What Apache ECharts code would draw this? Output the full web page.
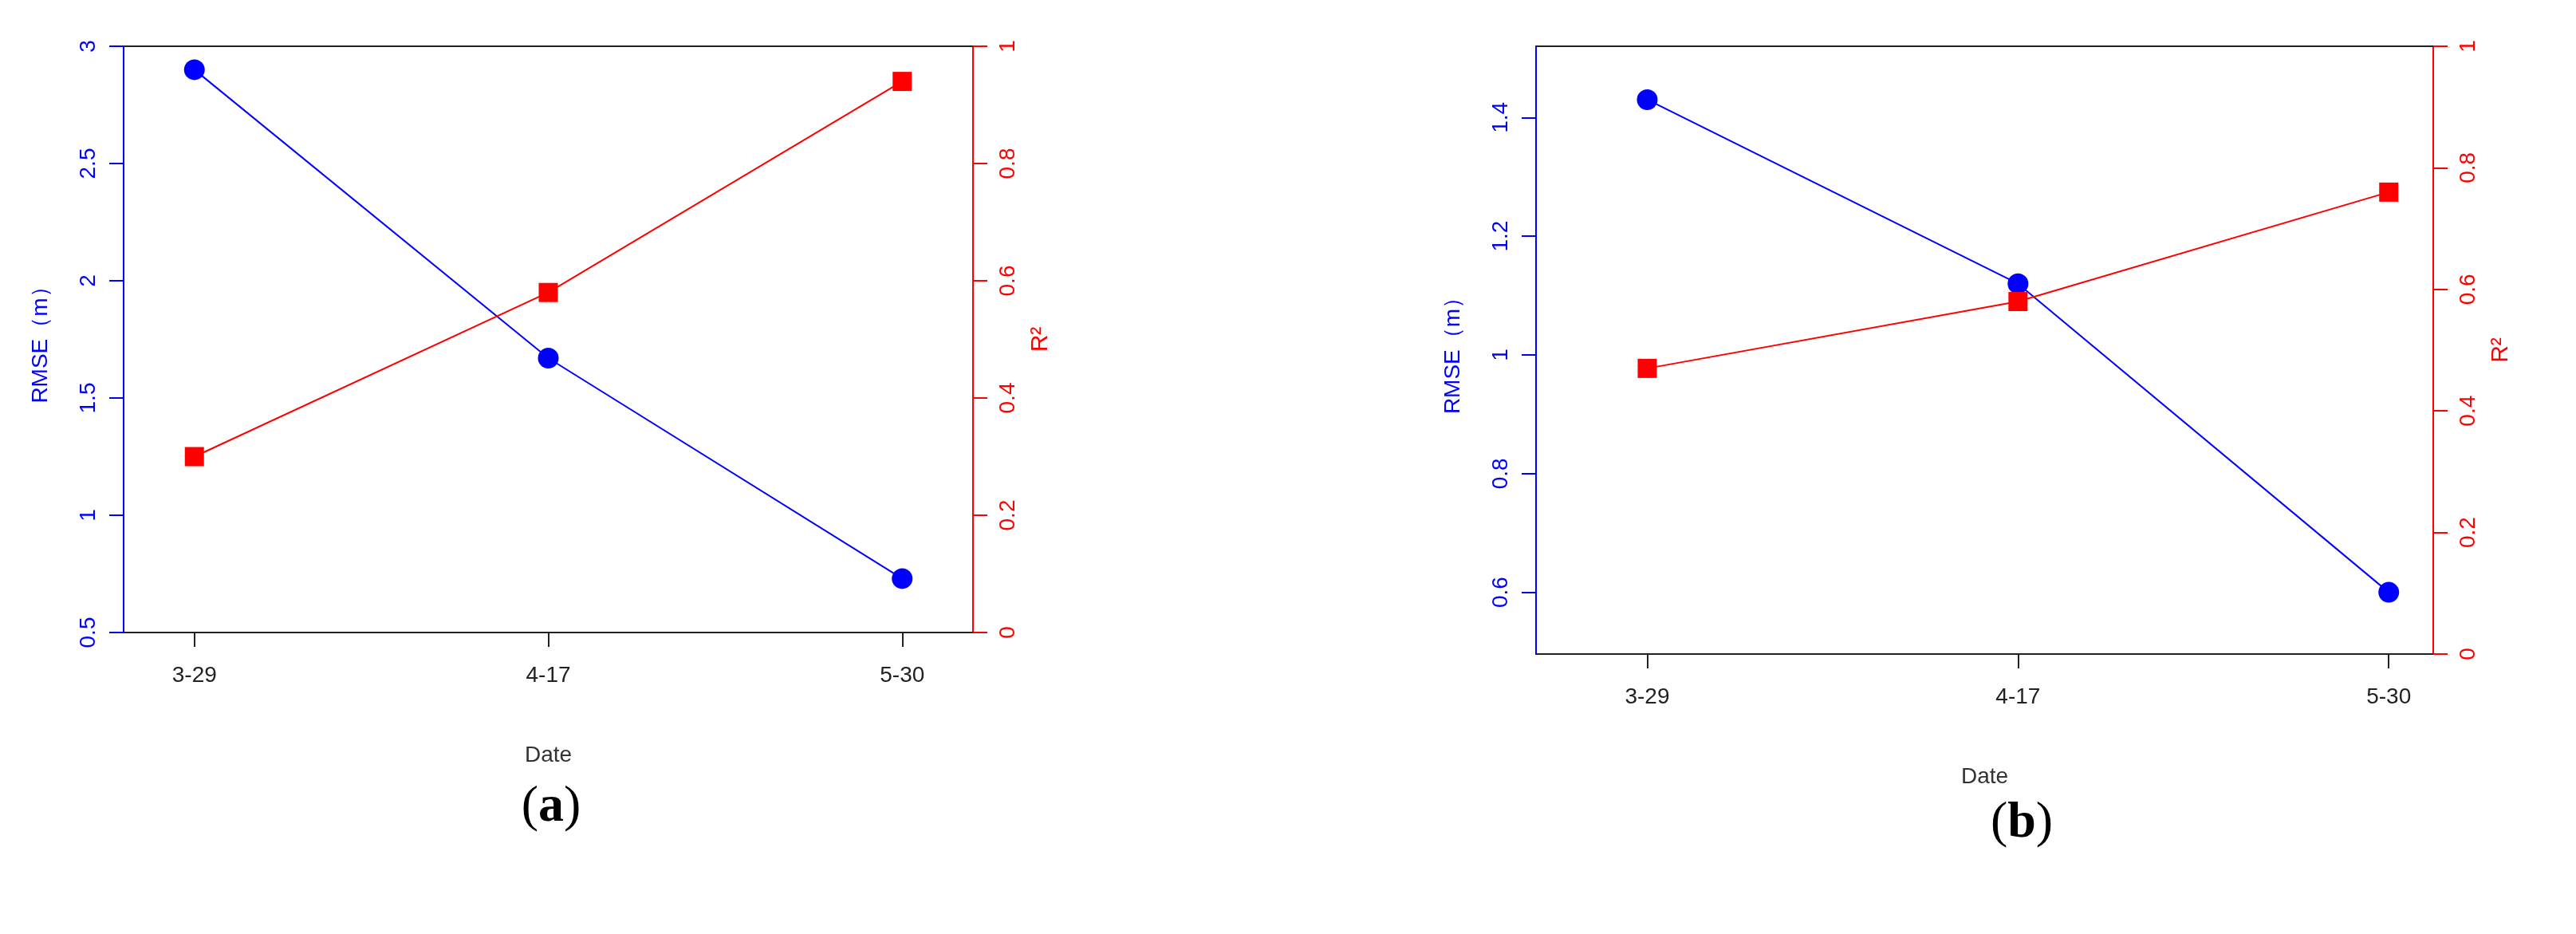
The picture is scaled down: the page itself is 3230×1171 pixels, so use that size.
<!DOCTYPE html>
<html>
<head>
<meta charset="utf-8">
<script src="https://cdn.jsdelivr.net/npm/echarts@6/dist/echarts.min.js"></script>
<style>html,body{margin:0;background:#fff}#chart{width:3230px;height:1171px}</style>
</head>
<body>
<div id="chart"></div>
<script>
// 数据
const dates = ['3-29', '4-17', '5-30'];
const rmseA = [2.9, 1.67, 0.73];
const r2A = [0.30, 0.58, 0.94];
const rmseB = [1.43, 1.12, 0.60];
const r2B = [0.47, 0.58, 0.76];
const ticksLeftA = [0.5, 1, 1.5, 2, 2.5, 3];
const ticksLeftB = [0.6, 0.8, 1.0, 1.2, 1.4];
const ticksRight = [0, 0.2, 0.4, 0.6, 0.8, 1];

const chart = echarts.init(document.getElementById('chart'));
const BLUE = '#0000ff', RED = '#ff0000', FONT = 'Liberation Sans';

function grids(gi, g, xmin, xmax, lmin, lmax, lticks) {
  return {
    grid: Object.assign({ containLabel: false }, g),
    xAxes: [{
      type: 'value', gridIndex: gi, min: xmin, max: xmax, position: 'bottom',
      name: 'Date', nameLocation: 'middle', nameGap: 140,
      nameTextStyle: { color: '#333', fontSize: 28, fontFamily: FONT },
      splitLine: { show: false },
      axisLine: { onZero: false, lineStyle: { color: '#222', width: 2 } },
      axisTick: { inside: false, length: 18, lineStyle: { color: '#222', width: 2 }, customValues: [0, 1, 2] },
      axisLabel: { customValues: [0, 1, 2], margin: 40, color: '#222', fontSize: 28, fontFamily: FONT,
        formatter: v => dates[Math.round(v)] }
    }, {
      type: 'value', gridIndex: gi, min: xmin, max: xmax, position: 'top',
      splitLine: { show: false }, axisTick: { show: false }, axisLabel: { show: false },
      axisLine: { onZero: false, lineStyle: { color: '#222', width: 2 } }
    }],
    yAxes: [{
      type: 'value', gridIndex: gi, min: lmin, max: lmax, position: 'left',
      name: 'RMSE（m）', nameLocation: 'middle', nameGap: 90,
      nameTextStyle: { color: BLUE, fontSize: 28, fontFamily: FONT },
      splitLine: { show: false },
      axisLine: { show: true, onZero: false, lineStyle: { color: BLUE, width: 2 } },
      axisTick: { length: 18, lineStyle: { color: BLUE, width: 2 }, customValues: lticks },
      axisLabel: { customValues: lticks, rotate: 90, margin: 30, color: BLUE, fontSize: 28, fontFamily: FONT }
    }, {
      type: 'value', gridIndex: gi, min: 0, max: 1, position: 'right',
      name: 'R²', nameLocation: 'middle', nameGap: 70, nameRotate: 90,
      nameTextStyle: { color: RED, fontSize: 30, fontFamily: FONT },
      splitLine: { show: false },
      axisLine: { show: true, onZero: false, lineStyle: { color: RED, width: 2 } },
      axisTick: { length: 18, lineStyle: { color: RED, width: 2 }, customValues: ticksRight },
      axisLabel: { customValues: ticksRight, rotate: 90, margin: 30, color: RED, fontSize: 28, fontFamily: FONT }
    }]
  };
}

const pa = grids(0, { left: 155, top: 58, width: 1065, height: 735 }, -0.2, 2.2, 0.5, 3, ticksLeftA);
const pb = grids(1, { left: 1926, top: 58, width: 1125, height: 762 }, -0.3, 2.12, 0.496, 1.52, ticksLeftB);

function line(data, xi, yi, color, symbol, size) {
  return {
    type: 'line', xAxisIndex: xi, yAxisIndex: yi,
    data: data.map((v, k) => [k, v]),
    symbol, symbolSize: size, showSymbol: true,
    lineStyle: { color, width: 2 }, itemStyle: { color }
  };
}

const panelTitle = (t, x, y) => ({
  text: '(' + '{b|' + t + '})', left: x, top: y, textAlign: 'center',
  textStyle: { fontFamily: 'Liberation Serif', fontSize: 64, fontWeight: 'normal', color: '#000',
    rich: { b: { fontFamily: 'Liberation Serif', fontSize: 64, fontWeight: 'bold', color: '#000' } } }
});

chart.setOption({
  animation: false,
  backgroundColor: '#fff',
  grid: [pa.grid, pb.grid],
  xAxis: [...pa.xAxes, ...pb.xAxes],
  yAxis: [...pa.yAxes, ...pb.yAxes],
  title: [panelTitle('a', 686, 975), panelTitle('b', 2530, 995)],
  series: [
    line(rmseA, 0, 0, BLUE, 'circle', 26),
    line(r2A, 0, 1, RED, 'rect', 24),
    line(rmseB, 2, 2, BLUE, 'circle', 26),
    line(r2B, 2, 3, RED, 'rect', 24)
  ]
});
</script>
</body>
</html>
